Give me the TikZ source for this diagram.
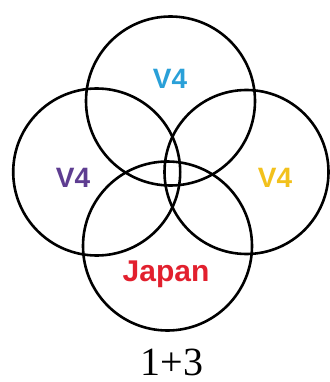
\documentclass[tikz,border=0pt]{standalone}
\usepackage{fontspec}
\setmainfont{Liberation Serif}
\setsansfont{Liberation Sans}
\definecolor{vcyan}{HTML}{2AA0D8}
\definecolor{vpurple}{HTML}{5E3D91}
\definecolor{vgold}{HTML}{F2C11C}
\definecolor{vred}{HTML}{E2202E}
\begin{document}
\begin{tikzpicture}[x=1pt,y=-1pt,
  ring/.style={circle,draw=black,line width=2.6pt,inner sep=0pt,minimum size=#1},
  lbl/.style={font=\sffamily\bfseries\fontsize{28}{30}\selectfont,inner sep=0pt,anchor=base},
  captext/.style={font=\fontsize{40}{42}\selectfont,inner sep=0pt,anchor=base}]
\useasboundingbox (0,0) rectangle (329,382);
\node[ring=169pt] (ctop) at (170.5,101) {};
\node[ring=167pt] (cleft) at (96.7,172) {};
\node[ring=164pt] (cright) at (246.5,172) {};
\node[ring=169pt] (cbottom) at (167.5,246) {};
\node[lbl,text=vcyan] (ltop) at (170,89) {V4};
\node[lbl,text=vpurple] (lleft) at (73,187) {V4};
\node[lbl,text=vgold] (lright) at (275,187) {V4};
\node[lbl,text=vred,font=\sffamily\bfseries\fontsize{30}{32}\selectfont] (lbottom) at (166,281) {Japan};
\node[captext] (caption) at (172,375) {1+3};
\end{tikzpicture}
\end{document}
